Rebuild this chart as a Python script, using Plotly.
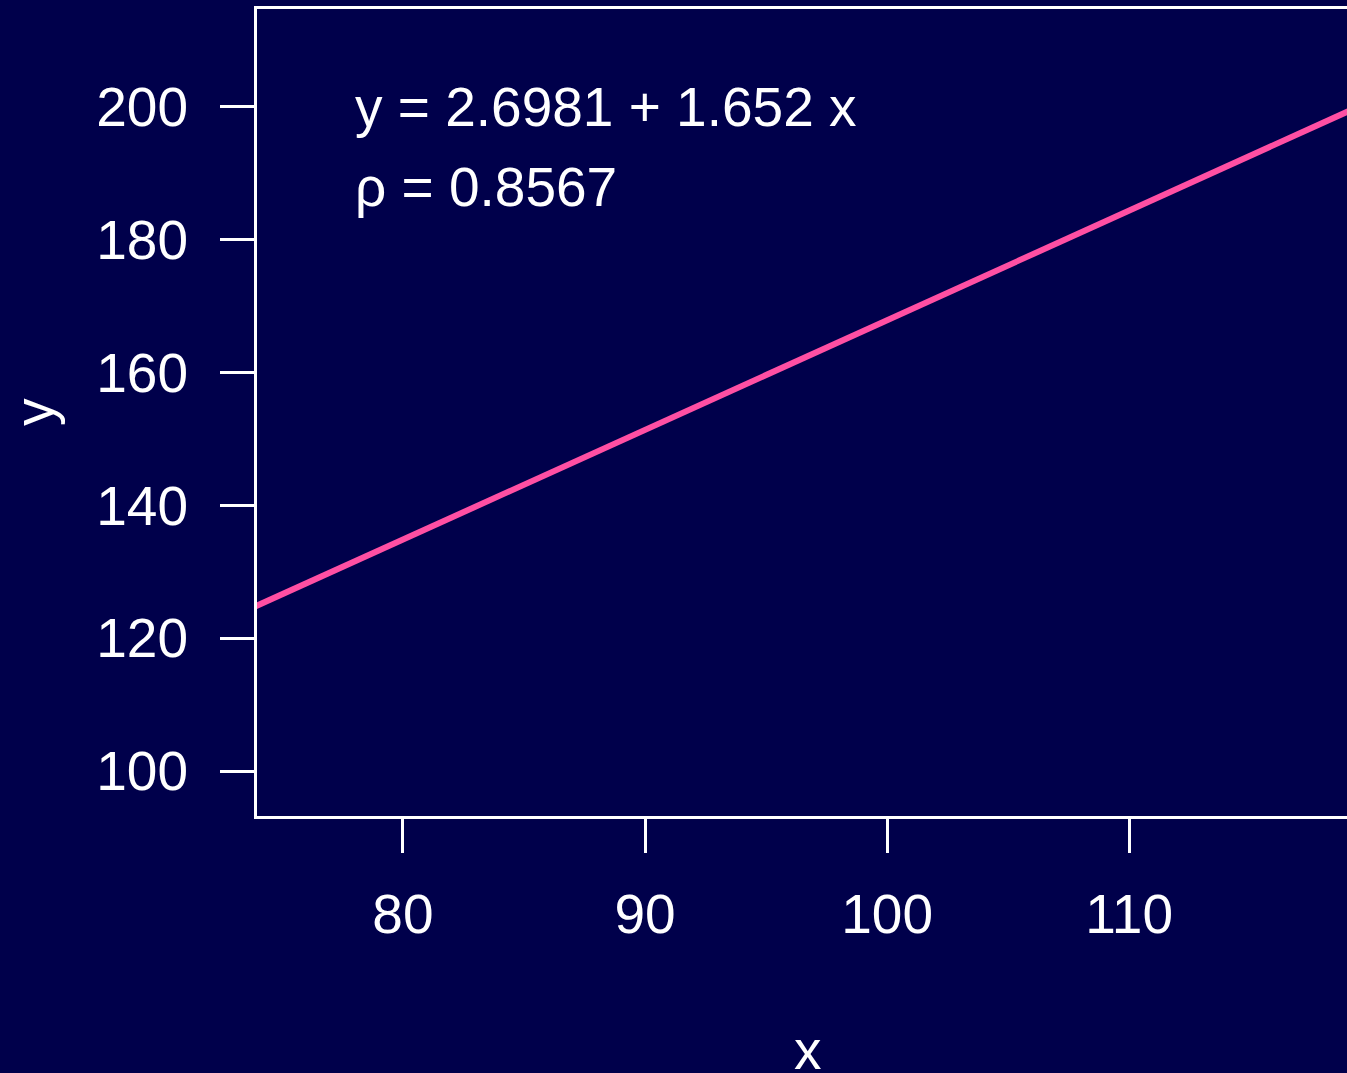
import plotly.graph_objects as go

# fitted line, endpoints
x_line = [73.0, 120.0]
y_line = [123.3, 200.9]

x_ticks = [80, 90, 100, 110]
y_ticks = [100, 120, 140, 160, 180, 200]

fit_label = "y = 2.6981 + 1.652 x"
rho_label = "\u03c1 = 0.8567"

bg = "#00004b"
pink = "#ff4fa3"
font = dict(family="Liberation Sans, Arial, sans-serif", size=55, color="white")

fig = go.Figure()
fig.add_trace(go.Scatter(x=x_line, y=y_line, mode="lines",
                         line=dict(color=pink, width=6), hoverinfo="skip"))

fig.update_layout(
    width=1347, height=1073,
    margin=dict(l=257, r=0, t=9, b=257),
    paper_bgcolor=bg, plot_bgcolor=bg,
    showlegend=False, font=font,
)
fig.update_xaxes(range=[73.97, 119.0], tickvals=x_ticks, ticks="outside",
                 ticklen=34, tickwidth=3, tickcolor="white",
                 showline=True, linewidth=3, linecolor="white", mirror=True,
                 showgrid=False, zeroline=False, ticklabelstandoff=14)
fig.update_yaxes(range=[93.23, 214.74], tickvals=y_ticks, ticks="outside",
                 ticklen=34, tickwidth=3, tickcolor="white",
                 showline=True, linewidth=3, linecolor="white",
                 showgrid=False, zeroline=False, ticklabelstandoff=21)

fig.add_annotation(x=78, y=200, text=fit_label, showarrow=False,
                   xanchor="left", yanchor="middle", font=font, xshift=-2)
fig.add_annotation(x=78, y=188, text=rho_label, showarrow=False,
                   xanchor="left", yanchor="middle", font=font, xshift=-2)
fig.add_annotation(x=0.5055, y=-0.2896, xref="paper", yref="paper", text="x",
                   showarrow=False, xanchor="center", yanchor="middle", font=font)
fig.add_annotation(x=-0.205, y=0.5, xref="paper", yref="paper", text="y",
                   textangle=-90, showarrow=False, xanchor="center", yanchor="middle",
                   font=font)

# drop the page's default 8px body margin
fig.write_html("out.html", config={"displayModeBar": False},
               post_script="document.body.style.margin='0';"
                           "document.body.style.background='%s';" % bg)
